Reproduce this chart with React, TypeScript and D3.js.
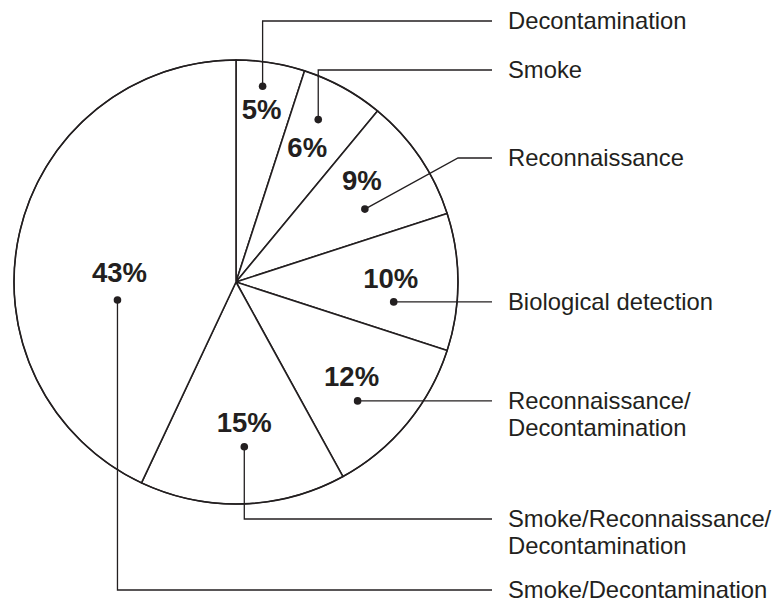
import React from 'react';
import * as d3 from 'd3';

// slice values, clockwise from 12 o'clock
const shares = [5, 6, 9, 10, 12, 15, 43];
const valueLabels = ['5%', '6%', '9%', '10%', '12%', '15%', '43%'];
const categories = [
  ['Decontamination'],
  ['Smoke'],
  ['Reconnaissance'],
  ['Biological detection'],
  ['Reconnaissance/', 'Decontamination'],
  ['Smoke/Reconnaissance/', 'Decontamination'],
  ['Smoke/Decontamination'],
];

// layout of the callouts (not data)
const calloutY = [21, 70, 158, 302, 401, 519, 590];
const leaderKind = ['v', 'v', 'd', 'h', 'h', 'v', 'v'];
const dotT = [0.43, 0.41, 0.645, 0.7, 0.61, 0.48, 0.363]; // position across the slice
const dotR = [0.89, 0.82, 0.667, 0.716, 0.766, 0.743, 0.54]; // fraction of radius
const pctOffset = [[-1, 33], [-11, 37], [-3, -19], [-3, -14], [-6, -15], [0, -15], [2, -18]];

const width = 775;
const height = 603;
const cx = 236;
const cy = 282;
const radius = 222;
const lineEndX = 492;
const textX = 508;
const bendX = 458;
const ink = '#231f20';

export default function App() {
  const pie = d3.pie<number>().sort(null).value(d => d).startAngle(0).endAngle(2 * Math.PI);
  const arcs = pie(shares);
  const arc = d3.arc<d3.PieArcDatum<number>>().innerRadius(0).outerRadius(radius);

  const callouts = arcs.map((a, i) => {
    const ang = a.startAngle + dotT[i] * (a.endAngle - a.startAngle);
    const r = dotR[i] * radius;
    const dx = cx + r * Math.sin(ang);
    const dy = cy - r * Math.cos(ang);
    const ly = calloutY[i];
    let path;
    if (leaderKind[i] === 'v') {
      path = d3.line()([[dx, dy], [dx, ly], [lineEndX, ly]]);
    } else if (leaderKind[i] === 'd') {
      path = d3.line()([[dx, dy], [bendX, ly], [lineEndX, ly]]);
    } else {
      path = d3.line()([[dx, dy], [lineEndX, dy]]);
    }
    return { i, dx, dy, ly: leaderKind[i] === 'h' ? dy : ly, path };
  });

  return (
    <svg
      width={width}
      height={height}
      style={{ position: 'absolute', left: 0, top: 0, background: '#fff' }}
      fontFamily="'Liberation Sans', Arial, Helvetica, sans-serif"
    >
      <rect width={width} height={height} fill="#fff" />
      <g transform={`translate(${cx},${cy})`}>
        {arcs.map((a, i) => (
          <path key={i} d={arc(a) || ''} fill="#fff" stroke={ink} strokeWidth={1.6} strokeLinejoin="round" />
        ))}
        <circle r={radius} fill="none" stroke={ink} strokeWidth={1.3} />
      </g>
      {callouts.map(c => (
        <g key={c.i}>
          <path d={c.path || ''} fill="none" stroke={ink} strokeWidth={1.3} />
          <circle cx={c.dx} cy={c.dy} r={3.8} fill={ink} />
          <text
            x={c.dx + pctOffset[c.i][0]}
            y={c.dy + pctOffset[c.i][1]}
            textAnchor="middle"
            fontWeight="bold"
            fontSize={27.5}
            fill={ink}
          >
            {valueLabels[c.i]}
          </text>
          {categories[c.i].map((t, k) => (
            <text key={k} x={textX} y={c.ly + 8 + k * 27} fontSize={23.8} fill={ink}>
              {t}
            </text>
          ))}
        </g>
      ))}
    </svg>
  );
}
